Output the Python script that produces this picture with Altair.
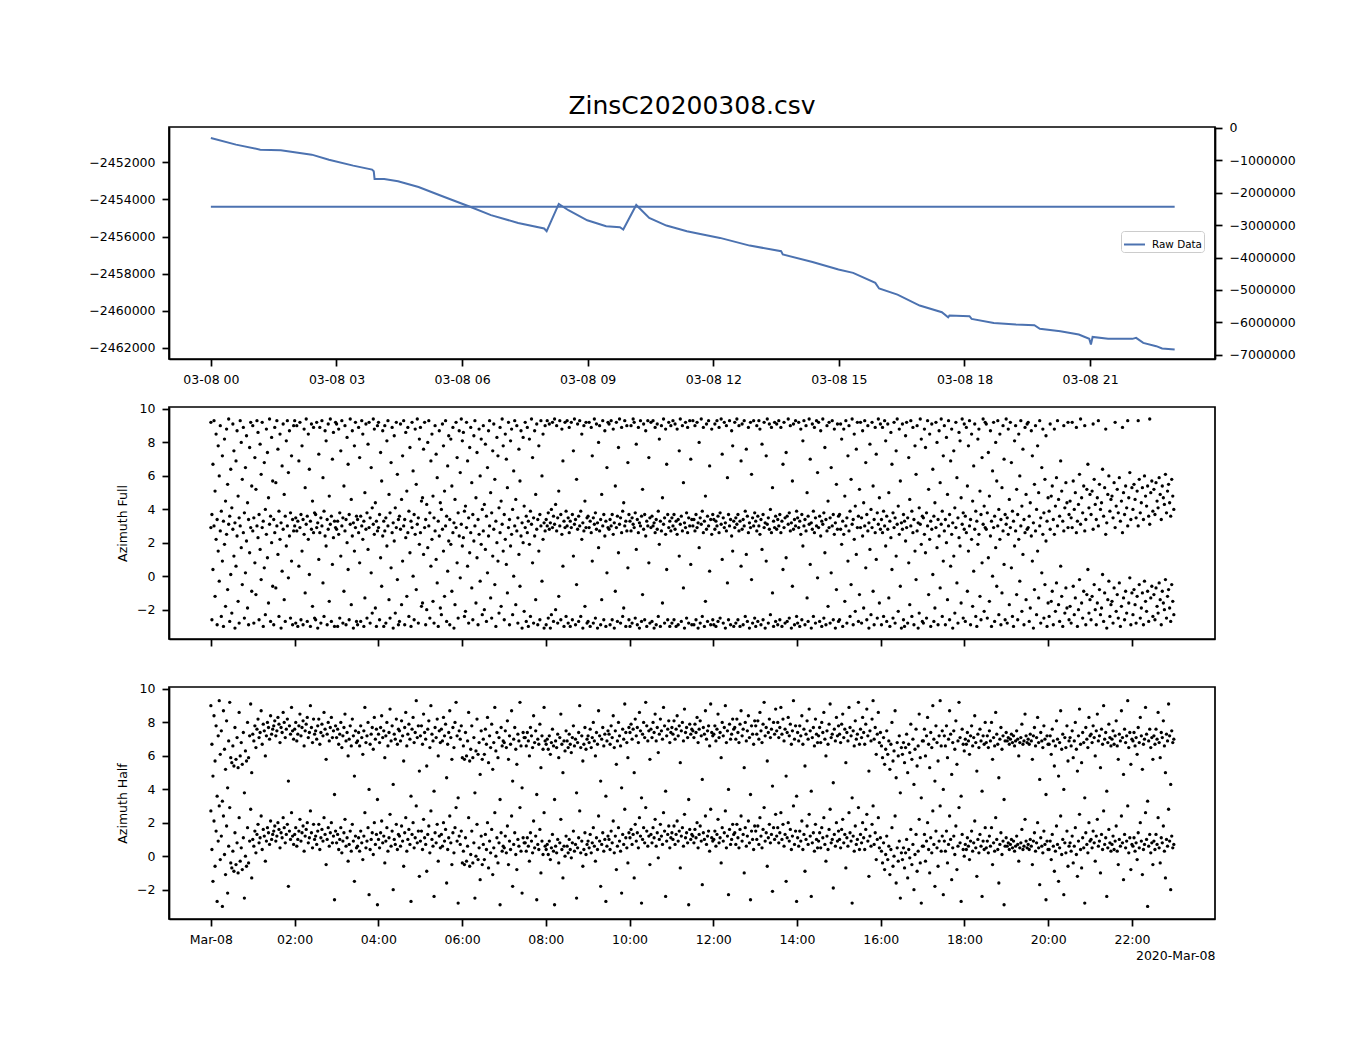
import altair as alt
import numpy as np
import pandas as pd

TITLE = "ZinsC20200308.csv"
DAY = "2020-03-08"
FONT = "DejaVu Sans"
BLUE = "#4C72B0"

# ---- top panel: trend line (left axis) ----
TREND_HOURS = [0.00, 0.60, 1.18, 1.67, 2.41, 2.82, 3.40, 3.85, 3.89, 3.91, 4.14, 4.47, 4.96,
               5.53, 6.19, 6.69, 7.34, 7.96, 8.02, 8.31, 8.54, 8.99, 9.44, 9.77, 9.85, 10.16,
               10.47, 10.88, 11.37, 11.66, 12.16, 12.87, 13.62, 13.66, 14.37, 14.99, 15.34,
               15.87, 15.96, 16.40, 16.93, 17.46, 17.61, 17.64, 18.12, 18.17, 18.70, 19.23,
               19.67, 19.80, 20.29, 20.73, 20.98, 21.02, 21.06, 21.43, 22.01, 22.10, 22.27,
               22.58, 22.72, 23.02]
TREND_VALUES = [-2450690, -2451050, -2451320, -2451355, -2451590, -2451860, -2452180, -2452395,
                -2452480, -2452900, -2452900, -2453020, -2453330, -2453830, -2454400, -2454850,
                -2455270, -2455570, -2455715, -2454245, -2454585, -2455125, -2455445, -2455500,
                -2455625, -2454300, -2455000, -2455410, -2455715, -2455850, -2456075, -2456490,
                -2456790, -2456970, -2457370, -2457780, -2457960, -2458500, -2458800, -2459130,
                -2459720, -2460080, -2460350, -2460260, -2460295, -2460440, -2460655, -2460745,
                -2460780, -2460975, -2461105, -2461280, -2461515, -2461820, -2461410, -2461515,
                -2461515, -2461460, -2461730, -2461910, -2462035, -2462090]
# ---- top panel: raw data (right axis) ----
RAW_HOURS = [0.0, 23.02]
RAW_VALUES = [-2436000, -2436000]
RAW_LABEL = "Raw Data"

LEFT_TICKS = [-2452000, -2454000, -2456000, -2458000, -2460000, -2462000]
RIGHT_TICKS = [0, -1000000, -2000000, -3000000, -4000000, -5000000, -6000000, -7000000]
TOP_TICK_HOURS = [0, 3, 6, 9, 12, 15, 18, 21]
BOTTOM_TICK_HOURS = [0, 2, 4, 6, 8, 10, 12, 14, 16, 18, 20, 22]
AZ_TICKS = [-2, 0, 2, 4, 6, 8, 10]

# ---- azimuth angles (radians, -pi..pi), sampled evenly from 00:00 to 23:00 ----
FULL_ANGLE = [
    2.9,-2.6,0.4,3.0,-1.2,2.2,-2.9,1.5,-0.3,2.7,-2.4,0.9,-3.0,1.9,-1.8,2.5,-0.8,3.1,-2.7,0.1,
    -2.2,2.8,1.2,-3.1,0.6,2.4,-1.5,-2.8,3.0,1.7,-0.5,2.6,-2.5,0.2,2.1,-1.9,-2.9,1.4,2.9,-0.9,
    2.7,-2.8,0.8,-1.1,3.0,2.3,-2.6,1.6,-0.2,2.9,-3.0,0.5,-2.3,2.5,1.1,-1.6,3.1,-2.7,2.0,-0.6,
    -2.9,2.6,-0.7,3.0,1.3,-2.4,2.2,-3.1,0.3,2.8,-1.4,-2.7,1.8,3.0,-0.1,2.4,-2.5,0.9,-2.9,2.7,
    3.0,-2.8,2.7,-3.0,0.6,2.9,-2.6,1.5,-2.9,2.5,-1.0,3.1,-2.7,2.2,0.1,-3.0,2.8,-1.8,2.6,-2.5,
    -2.6,2.9,-3.1,1.0,2.6,-2.8,3.0,-0.4,-2.4,2.4,1.8,-2.9,2.8,-1.5,3.1,-2.7,0.7,2.3,-3.0,2.9,
    2.8,-3.0,2.5,-2.5,1.2,3.0,-2.8,-0.9,2.7,-2.9,2.0,0.4,-2.6,3.1,-1.7,2.4,-3.1,1.5,2.9,-2.7,
    -2.9,2.6,0.8,-2.7,3.0,2.2,-3.0,-1.3,2.8,-2.5,1.6,2.9,-2.8,0.2,-2.2,3.1,2.5,-1.9,-3.0,2.7,
    2.9,-2.6,1.1,-0.6,2.4,-3.0,2.7,-2.8,1.8,3.0,-1.4,-2.5,0.5,2.6,-3.1,2.1,-2.2,2.9,-0.2,-2.9,
    -2.7,2.8,-1.7,0.9,3.0,-2.9,2.3,-1.2,2.6,-2.4,1.4,-3.0,2.9,0.0,-2.6,2.5,-0.8,3.1,-2.8,1.9,
    2.6,-1.8,-1.6,1.3,2.9,-2.9,-2.0,1.7,3.0,-2.5,0.6,2.2,-1.5,-2.8,2.7,1.0,-0.4,-3.0,2.4,-1.9,
    -2.3,2.8,1.5,-1.2,3.0,-2.7,0.3,2.1,-2.9,1.9,-0.9,2.6,-3.1,-1.7,2.9,0.8,-2.5,2.4,-0.1,3.1,
    1.8,2.3,-2.4,-2.1,2.9,0.6,-2.8,1.4,2.6,-0.7,-2.6,2.1,3.0,-1.6,1.1,-2.9,2.5,-0.3,1.9,-2.3,
    2.7,-2.0,1.6,-2.7,0.2,2.4,3.0,-1.3,-2.5,1.2,2.8,-0.5,-3.0,2.0,0.9,-2.2,2.6,-1.8,3.1,1.5,
    -2.6,2.2,0.7,-1.0,2.9,-2.9,1.8,2.5,-2.3,0.0,3.0,-1.7,2.7,-2.8,1.3,-0.6,2.4,-3.1,2.0,-2.1,
    2.9,-2.7,2.6,-3.0,1.9,-2.4,3.1,0.8,-2.8,2.4,-1.4,2.8,-2.9,1.5,-2.6,3.0,-0.3,2.2,-3.1,2.7,
    -2.9,3.0,-2.5,2.8,-3.1,-2.3,2.9,-2.7,3.1,-2.0,2.7,-2.8,-1.2,3.0,-2.6,2.5,0.6,-3.0,2.9,-2.4,
    3.0,-2.8,2.6,-3.0,2.9,-2.6,1.2,3.1,-2.9,-0.5,2.8,-2.7,3.0,-2.4,2.2,-3.1,2.7,-1.8,2.9,-2.8,
    -2.7,2.9,-3.0,2.6,0.9,-2.8,3.1,-2.5,2.8,-3.1,1.7,2.7,-2.9,-1.4,3.0,-2.6,2.4,-3.0,0.2,2.9,
    2.8,-2.9,3.0,-2.6,2.5,-3.1,-0.9,2.9,-2.7,1.4,3.1,-2.8,2.6,-2.4,-1.9,3.0,-3.0,2.7,0.5,-2.6,
    -3.0,2.7,-2.8,3.1,2.9,-2.5,1.6,-2.9,2.6,-3.1,3.0,-2.7,-1.1,2.8,-2.6,2.4,-3.0,3.0,0.8,-2.8,
    2.9,-2.7,3.0,-3.1,2.6,-2.9,2.8,-2.4,1.9,-3.0,2.7,-1.6,3.1,-2.8,2.5,0.4,-2.6,2.9,-3.0,2.7,
    -2.8,3.0,-2.6,2.8,-3.0,2.5,-2.9,1.2,3.1,-2.7,2.7,-0.7,-3.1,2.9,-2.5,2.6,-2.8,3.0,0.7,-2.9,
    3.0,-2.9,2.7,-2.6,2.9,-3.1,1.7,-2.8,3.1,-2.4,2.6,-3.0,-1.5,2.8,-2.7,3.0,0.3,-2.9,2.5,-2.6,
    -2.9,2.8,-3.0,3.0,-2.7,2.6,-2.5,3.1,1.0,-2.8,2.9,-3.1,2.7,-0.4,-2.6,3.0,-2.9,2.4,1.5,-3.0,
    2.9,-2.8,3.1,-2.6,2.7,-3.0,0.6,2.8,-2.9,3.0,-2.4,1.3,-2.7,2.6,-3.1,2.9,-0.2,-2.8,3.0,-2.5,
    -3.0,2.7,-2.7,3.0,2.5,-2.9,1.6,-2.6,2.9,-3.1,0.9,3.1,-2.8,2.8,-2.3,2.6,-1.0,-3.0,2.9,-2.7,
    2.8,-2.9,3.0,-2.6,2.6,-3.0,0.4,2.9,-2.8,1.1,-2.7,3.1,-2.5,2.7,-3.1,-0.6,2.8,-2.9,3.0,-2.4,
    -2.8,2.9,-3.0,2.5,-2.6,1.8,3.0,-2.9,2.7,-1.3,-2.7,3.1,0.7,-3.1,2.8,-2.4,2.6,-2.8,3.0,-0.1,
    2.9,-2.7,2.4,-3.0,3.1,-2.5,1.4,-2.9,2.7,-1.8,2.9,-2.8,0.2,3.0,-2.6,2.5,-3.1,-0.8,2.8,-2.7,
    -2.6,2.8,1.9,-3.0,2.5,-1.5,3.0,-2.8,0.9,2.7,-2.4,-0.5,3.1,-2.9,2.2,-2.1,1.3,2.9,-2.7,-1.1,
    2.9,-2.8,2.4,-1.9,3.0,0.5,-2.6,2.7,-3.1,1.6,-2.3,2.9,-0.9,-2.9,2.6,1.0,-2.5,3.1,-1.6,2.8,
    -2.9,2.6,-2.4,3.0,1.8,-2.7,2.8,-1.3,-3.0,2.3,0.4,-2.5,2.9,-2.8,1.2,3.1,-2.1,2.5,-0.6,-3.1,
    2.8,-2.6,-3.0,2.1,2.9,-2.8,0.8,-1.7,3.0,-2.4,2.6,-2.9,1.5,-0.2,2.7,-3.1,-2.2,3.1,1.9,-2.7,
    -2.8,2.5,1.4,-2.5,3.0,-1.1,2.2,-3.0,2.8,0.1,-2.7,-1.9,2.9,1.7,-2.9,2.4,-0.7,3.1,-2.4,0.9,
    2.7,-2.9,2.0,-1.4,3.0,-2.6,0.6,2.5,-3.1,1.2,-2.2,2.9,-0.4,-2.8,2.3,1.8,-1.6,3.1,-2.5,2.8,
    -2.7,2.6,-0.9,1.5,3.0,-2.9,2.2,-1.8,0.3,2.8,-2.4,-3.0,1.9,2.5,-1.2,-2.6,0.8,3.1,-2.1,2.9,
    2.8,-2.5,1.1,-1.5,2.4,-3.0,0.0,2.9,-2.7,1.7,-0.6,3.0,-2.3,2.2,-2.9,-1.0,2.7,0.7,-2.6,3.1,
    -2.8,2.5,-1.7,2.9,0.5,-2.4,-3.0,1.8,2.7,-1.1,-2.6,2.2,-0.3,3.0,-2.1,1.3,-2.9,2.6,-1.4,2.8,
    2.9,-2.7,-1.9,2.4,0.9,-3.1,-0.8,2.7,-2.3,1.5,-1.3,3.0,-2.8,0.2,2.5,-2.5,-0.5,2.1,-3.0,-1.6,
    -2.4,2.8,-1.5,-0.9,-2.9,2.5,-2.1,-0.4,3.0,-1.7,-2.7,0.6,-1.2,-3.0,2.7,-2.2,-0.7,-1.9,2.9,-2.6,
    -1.8,-2.8,2.9,-0.6,-2.3,-1.3,2.6,-3.0,-2.0,-0.2,3.1,-1.6,-2.5,-0.9,2.7,-2.9,-1.1,0.4,-2.2,-1.4,
    -2.6,-1.2,2.8,-0.5,-2.0,-2.9,-1.6,3.0,-0.8,-2.3,-1.9,0.1,-2.7,-1.0,2.5,-3.1,-1.4,-0.3,-2.4,-1.7,
    -1.5,-2.8,-0.7,2.9,-2.1,-1.1,-2.5,-0.4,-3.0,-1.8,2.6,-1.3,-2.6,-0.9,-2.2,3.0,-1.6,-0.1,-2.9,-1.0,
    -2.3,-0.8,-1.7,-2.8,-1.2,3.0,-0.5,-2.5,-1.9,-1.0,-2.9,-0.3,-1.5,-2.1,-0.9,-2.7,3.1,-1.3,-0.6,-2.4,
    -1.1,-2.6,-0.7,-1.8,-2.2,-0.4,-1.4,-2.9,-0.9,-1.6,-2.0,-0.2,-2.5,-1.2,-0.8,-1.9,-2.7,-0.5,-1.5,-2.3,
]

HALF_ANGLE = [
    2.7,0.4,-1.5,2.1,-0.6,1.5,-2.7,0.9,3.0,-0.2,1.2,-3.0,2.4,0.1,-1.1,1.8,-2.2,0.6,2.9,-0.4,
    -0.7,0.3,-0.9,1.4,-0.5,0.8,-1.0,2.3,-0.3,0.5,-0.8,1.1,-2.5,0.0,-0.6,1.7,-0.4,0.9,2.8,-1.3,
    1.0,0.6,1.5,0.2,1.3,1.9,0.8,1.1,2.4,0.4,1.6,1.2,-0.3,0.9,1.7,1.4,0.7,2.1,1.0,1.3,
    1.5,1.8,0.9,1.2,2.0,1.6,0.5,1.4,1.1,2.3,1.7,0.8,1.3,1.9,-1.8,1.5,1.0,2.6,1.2,0.7,
    1.3,1.7,0.6,1.0,1.5,2.2,0.9,1.4,1.8,0.3,1.2,1.6,2.0,0.8,1.1,2.7,1.4,0.5,1.9,1.0,
    1.2,0.7,1.5,1.9,0.4,1.1,1.6,0.9,2.3,1.3,-0.5,1.0,1.7,0.6,1.4,2.0,0.8,1.2,-2.6,1.5,
    0.8,1.3,0.4,1.0,1.7,0.2,0.9,1.4,2.2,0.6,1.1,-0.3,0.7,1.5,0.3,1.9,0.9,-1.5,1.2,0.5,
    0.6,1.1,0.3,1.5,0.8,-0.2,1.2,2.6,0.5,0.9,1.7,-2.3,0.4,1.0,1.4,0.1,2.0,0.7,1.3,-2.9,
    1.0,0.5,1.4,2.1,0.8,1.2,-0.4,0.9,1.7,0.3,1.1,2.5,0.6,1.5,-2.0,1.0,0.7,1.9,0.4,1.3,
    1.2,0.6,1.8,0.9,-0.6,1.4,2.3,0.3,1.0,1.6,0.7,-2.7,1.3,2.0,0.5,1.1,3.0,0.8,1.5,-1.2,
    0.9,1.5,0.4,2.2,1.1,0.7,-0.9,1.3,1.8,0.2,2.7,1.0,0.6,-2.4,1.4,0.8,1.9,-0.3,1.2,0.5,
    1.3,0.6,2.0,0.9,1.6,-1.6,0.4,1.1,2.4,0.8,-0.5,1.4,0.2,1.7,2.9,0.9,-2.8,1.2,0.7,1.5,
    -0.4,0.3,-0.5,1.1,-0.3,0.6,2.3,-0.6,0.1,1.5,-0.4,0.8,-2.5,0.0,1.9,-0.2,0.5,-1.4,1.2,-0.5,
    0.7,-0.2,1.3,0.4,2.0,-0.7,0.9,0.2,1.6,-1.1,0.5,2.6,0.0,1.1,-0.4,0.8,-2.9,1.4,0.3,0.6,
    0.5,1.2,0.2,1.8,-0.5,0.9,0.4,2.4,-1.8,0.7,1.4,0.1,-0.8,1.0,0.6,2.9,0.3,-2.2,1.1,0.8,
    0.8,0.3,1.1,0.6,-0.3,1.4,0.9,0.2,2.1,0.5,1.2,-2.6,0.7,0.4,1.6,-1.0,0.9,0.1,2.6,0.6,
    0.4,0.7,0.1,0.9,-0.2,0.5,1.3,0.3,-2.9,0.6,0.2,1.0,-0.4,0.8,2.2,0.4,-1.3,0.6,0.0,1.2,
    0.6,0.2,1.0,0.4,-0.1,0.8,1.5,0.3,0.7,-2.5,0.5,1.1,2.7,0.2,0.9,-0.6,0.4,1.4,0.1,0.7,
    0.9,0.5,1.3,0.2,0.8,1.7,0.6,-0.3,1.1,0.4,2.4,0.9,-1.8,0.7,1.4,0.3,1.0,-2.7,0.6,1.2,
    1.0,0.4,1.5,0.8,2.1,0.2,1.2,-0.8,0.6,1.7,0.9,0.3,-2.2,1.3,0.7,2.8,1.1,0.5,-0.4,1.4,
    1.1,1.6,0.7,1.3,-1.3,1.9,0.9,1.4,0.5,2.3,1.2,-2.8,1.0,1.7,0.8,2.9,1.5,0.6,1.2,-0.5,
    1.3,0.8,1.7,1.1,2.2,0.6,1.4,-0.1,1.0,1.9,1.2,0.7,2.6,1.5,-2.4,0.9,1.3,1.8,0.5,1.1,
    1.4,1.0,1.8,0.7,1.3,2.1,0.9,1.5,-0.7,1.2,1.7,0.6,2.5,1.1,1.4,0.8,-2.9,1.6,1.0,1.3,
    1.2,0.8,1.6,1.1,2.0,0.5,1.3,1.8,0.9,-1.7,1.4,1.0,2.4,0.7,1.2,1.5,0.3,2.8,1.1,0.9,
    1.0,1.5,0.6,1.3,2.2,0.8,1.1,-0.4,1.7,0.9,1.4,2.7,0.5,1.2,-2.3,1.6,0.7,1.0,1.9,1.3,
    1.4,0.7,1.9,1.1,0.5,1.6,2.4,0.9,1.3,-1.0,1.7,0.6,1.2,2.1,0.8,-2.6,1.5,1.0,0.4,1.8,
    1.5,1.0,1.8,0.7,2.3,1.2,0.5,1.6,2.9,0.9,1.4,-0.6,1.1,1.9,0.8,1.3,-2.1,1.7,1.0,2.5,
    1.2,1.7,0.8,1.4,2.6,1.0,1.9,0.6,1.3,-1.5,1.1,2.0,0.9,1.6,0.4,1.2,3.0,0.7,1.5,-2.7,
    1.1,0.6,1.5,0.9,2.1,0.4,1.3,-0.9,1.0,1.8,0.7,2.5,1.2,-2.4,0.8,1.4,0.3,1.9,1.0,0.5,
    0.9,1.4,0.5,1.7,1.1,2.3,0.7,-0.3,1.2,0.4,1.6,2.8,0.8,1.0,-1.9,1.3,0.6,2.0,0.9,1.5,
    1.0,0.5,1.6,2.2,0.8,1.3,-0.7,1.1,0.6,2.6,1.4,0.9,-2.8,1.2,0.3,1.8,0.7,1.0,2.9,0.4,
    1.3,0.8,2.0,1.1,0.4,1.6,2.5,0.9,-1.2,1.2,0.6,1.9,3.0,0.7,1.4,-0.2,1.0,2.3,0.5,1.1,
    0.3,-0.4,0.8,-0.8,0.1,1.2,-0.2,0.6,-1.1,0.4,1.7,-0.6,0.0,2.4,-1.6,0.5,-0.3,0.9,-2.5,0.2,
    -0.2,0.5,-0.7,0.2,1.0,-1.3,0.4,-0.1,1.6,-0.5,0.7,-2.0,0.1,1.3,-0.9,0.3,2.2,-0.4,-2.8,0.6,
    0.6,1.3,-0.3,0.9,2.0,0.4,-1.0,1.1,0.2,2.7,0.7,-1.8,1.5,0.5,-0.6,0.9,3.0,0.3,1.2,-2.3,
    0.9,0.3,1.5,-0.4,0.7,2.4,1.0,-1.4,0.5,1.2,0.1,1.8,-0.8,0.6,2.9,0.8,-2.7,1.3,0.4,0.0,
    0.7,0.4,1.1,0.6,-0.2,0.9,1.5,0.3,0.8,2.1,0.5,-1.2,1.0,0.2,1.3,0.6,-2.4,0.9,0.4,1.7,
    0.5,0.9,0.2,1.2,0.6,1.7,-0.5,0.8,0.3,2.3,1.0,0.4,-1.6,0.7,1.4,0.1,0.9,-2.9,0.6,1.1,
    0.6,0.8,0.4,0.7,1.0,0.5,0.9,0.3,0.6,1.2,0.7,-0.3,0.5,0.8,1.6,0.4,0.6,2.2,0.9,0.5,
    0.7,0.4,1.0,0.6,-0.5,0.9,1.4,0.3,0.8,2.0,0.5,-1.7,1.1,0.6,0.2,1.5,0.7,-2.6,0.9,0.4,
    0.4,0.9,-0.2,1.3,0.6,-0.9,0.3,1.8,0.7,-1.5,0.5,2.4,0.1,1.0,-2.3,0.8,0.2,1.5,-0.6,0.6,
    0.8,0.3,1.2,-0.4,0.6,1.7,0.1,-1.2,0.9,2.5,0.4,-0.7,1.1,0.5,-2.8,1.4,0.7,0.2,2.0,0.9,
    1.0,0.5,1.5,0.8,-0.3,1.2,2.2,0.6,0.9,-1.0,1.3,0.4,2.7,0.7,1.1,-2.4,0.5,1.6,0.8,0.3,
    0.7,1.2,0.4,0.9,1.8,0.3,-0.5,1.0,0.6,2.4,0.8,-1.4,1.3,0.5,0.9,3.0,0.2,1.1,-0.8,0.7,
    0.6,1.1,0.3,0.8,-0.2,1.4,0.5,2.0,0.9,-1.1,0.4,0.7,2.6,1.0,-3.0,0.6,1.3,0.2,0.8,-0.5,
    0.9,0.4,1.3,0.7,2.3,0.5,-0.4,1.1,0.8,1.8,0.3,-1.3,1.0,0.6,2.8,0.9,-2.0,1.2,0.5,0.7,
]

base = pd.Timestamp(DAY)


def stamps(hours):
    return [(base + pd.Timedelta(hours=h)).strftime("%Y-%m-%dT%H:%M:%S") for h in hours]


def dt(h, m=0, day=8):
    return alt.DateTime(year=2020, month=3, date=day, hours=h, minutes=m)


def az_frame(angles):
    times = pd.date_range(base, base + pd.Timedelta(hours=23), periods=len(angles))
    t = list(times.strftime("%Y-%m-%dT%H:%M:%S"))
    a = np.array(angles, dtype=float)
    # each angle is drawn at its value and one turn higher
    return pd.DataFrame({"time": t + t, "az": np.concatenate([a, a + 2 * np.pi])})


trend_df = pd.DataFrame({"time": stamps(TREND_HOURS), "value": TREND_VALUES})
raw_df = pd.DataFrame({"time": stamps(RAW_HOURS), "value": RAW_VALUES,
                       "series": [RAW_LABEL] * len(RAW_HOURS)})
full_df = az_frame(FULL_ANGLE)
half_df = az_frame(HALF_ANGLE)

x_scale = alt.Scale(domain=[dt(23, 0, 7), dt(23, 59)])
W, H = 1046, 232

trend = alt.Chart(trend_df).mark_line(color=BLUE, strokeWidth=2).encode(
    x=alt.X("time:T", scale=x_scale, title=None,
            axis=alt.Axis(values=[dt(h) for h in TOP_TICK_HOURS], format="%m-%d %H")),
    y=alt.Y("value:Q", title=None,
            scale=alt.Scale(domain=[-2462600, -2450100], nice=False, zero=False),
            axis=alt.Axis(values=LEFT_TICKS, format="d", orient="left")),
)
raw = alt.Chart(raw_df).mark_line(strokeWidth=2).encode(
    x=alt.X("time:T", scale=x_scale, title=None),
    y=alt.Y("value:Q", title=None,
            scale=alt.Scale(domain=[-7128000, 25000], nice=False, zero=False),
            axis=alt.Axis(values=RIGHT_TICKS, format="d", orient="right")),
    color=alt.Color("series:N", title=None, scale=alt.Scale(range=[BLUE]),
                    legend=alt.Legend(orient="none", legendX=952, legendY=104,
                                      symbolType="stroke", symbolSize=440,
                                      symbolStrokeWidth=2, labelFont=FONT,
                                      labelFontSize=10.4, labelColor="black",
                                      labelOffset=6, strokeColor="#cccccc",
                                      fillColor="#ffffff", cornerRadius=3, padding=2)),
)
top = alt.layer(trend, raw).resolve_scale(y="independent").properties(
    width=W, height=H,
    title=alt.TitleParams(TITLE, fontSize=25, font=FONT, fontWeight="normal",
                          color="black", offset=3, anchor="middle"),
)

mid = alt.Chart(full_df).mark_circle(color="black", size=11, opacity=1).encode(
    x=alt.X("time:T", scale=x_scale, title=None,
            axis=alt.Axis(values=[dt(h) for h in BOTTOM_TICK_HOURS], labels=False)),
    y=alt.Y("az:Q", title="Azimuth Full",
            scale=alt.Scale(domain=[-3.75, 10.1], nice=False, zero=False),
            axis=alt.Axis(values=AZ_TICKS, titlePadding=7)),
).properties(width=W, height=H)

bot = alt.Chart(half_df).mark_circle(color="black", size=11, opacity=1).encode(
    x=alt.X("time:T", scale=x_scale, title="2020-Mar-08",
            axis=alt.Axis(values=[dt(h) for h in BOTTOM_TICK_HOURS],
                          labelExpr="hours(datum.value) == 0 ? 'Mar-08' : timeFormat(datum.value, '%H:%M')",
                          titleAnchor="end", titlePadding=4)),
    y=alt.Y("az:Q", title="Azimuth Half",
            scale=alt.Scale(domain=[-3.75, 10.1], nice=False, zero=False),
            axis=alt.Axis(values=AZ_TICKS, titlePadding=7)),
).properties(width=W, height=H)

chart = alt.vconcat(top, mid, bot, spacing=48, bounds="flush").properties(
    padding={"left": 80, "top": 84, "right": 10, "bottom": 10}
).configure_view(
    stroke="black", strokeWidth=1.7
).configure_axis(
    grid=False, domainColor="black", domainWidth=1.7, tickColor="black", tickWidth=1.7,
    tickSize=7, labelPadding=7, labelFont=FONT, labelFontSize=12.5, labelColor="black",
    titleFont=FONT, titleFontSize=12.5, titleFontWeight="normal", titleColor="black",
)

chart.save("out.html", embed_options={"renderer": "svg", "actions": False})
